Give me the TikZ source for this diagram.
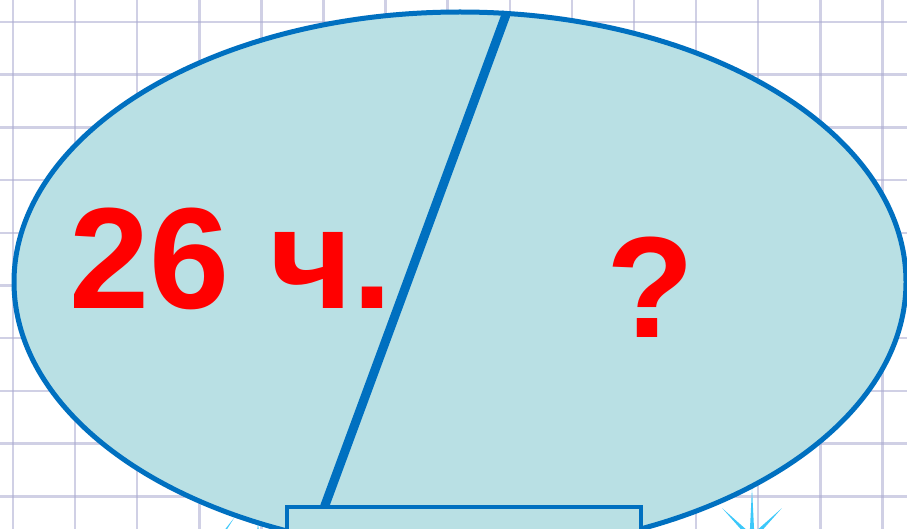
\documentclass[tikz,border=0pt]{standalone}
\usepackage{fontspec}
\setmainfont{Liberation Sans}
\usetikzlibrary{positioning}
\definecolor{gridline}{RGB}{170,170,208}
\definecolor{ovalfill}{RGB}{185,224,228}
\definecolor{ovalline}{RGB}{0,112,192}
\definecolor{spark}{RGB}{60,200,250}

\begin{document}
\begin{tikzpicture}[x=1pt,y=-1pt,
  cell/.style={draw=gridline,line width=2.5pt,opacity=0.55},
  ray/.style={fill=spark},
  ovalpart/.style={fill=ovalfill,draw=ovalline},
  bigtext/.style={text=red,inner sep=0pt,font=\fontsize{144}{144}\selectfont\bfseries}]
\useasboundingbox (0,0) rectangle (907,529);
\clip (0,0) rectangle (907,529);
\fill[white] (0,0) rectangle (907,529);
% squared paper
\foreach \x in {0,...,14} \draw[cell] (13+62.1*\x,0) -- (13+62.1*\x,529);
\foreach \y in {0,...,9} \draw[cell] (0,22+52.7*\y) -- (907,22+52.7*\y);
% sparks behind the oval
\foreach \a/\l in {90/50,45/42,135/42} \fill[ray,shift={(752,538)},rotate=\a] (0,-2.5) -- (\l,0) -- (0,2.5) -- cycle;
\fill[ray,shift={(213,548)},rotate=55] (0,-2) -- (37,0) -- (0,2) -- cycle;
\fill[ray,shift={(258,548)},rotate=90] (0,-2) -- (27,0) -- (0,2) -- cycle;
% oval cut in two parts
\filldraw[ovalpart,line width=5pt] (460,282) ellipse [x radius=446pt, y radius=270pt];
\coordinate (cut top) at (507,12);
\coordinate (cut bottom) at (324,508);
\draw[ovalline,line width=9pt] (cut top) -- (cut bottom);
\filldraw[ovalpart,line width=4pt] (287,507) rectangle (641,560);
\node[bigtext,anchor=base west] (hours) at (69,308) {26 ч.};
\node[bigtext,anchor=base] (unknown) at (650,337) {?};
\end{tikzpicture}
\end{document}
